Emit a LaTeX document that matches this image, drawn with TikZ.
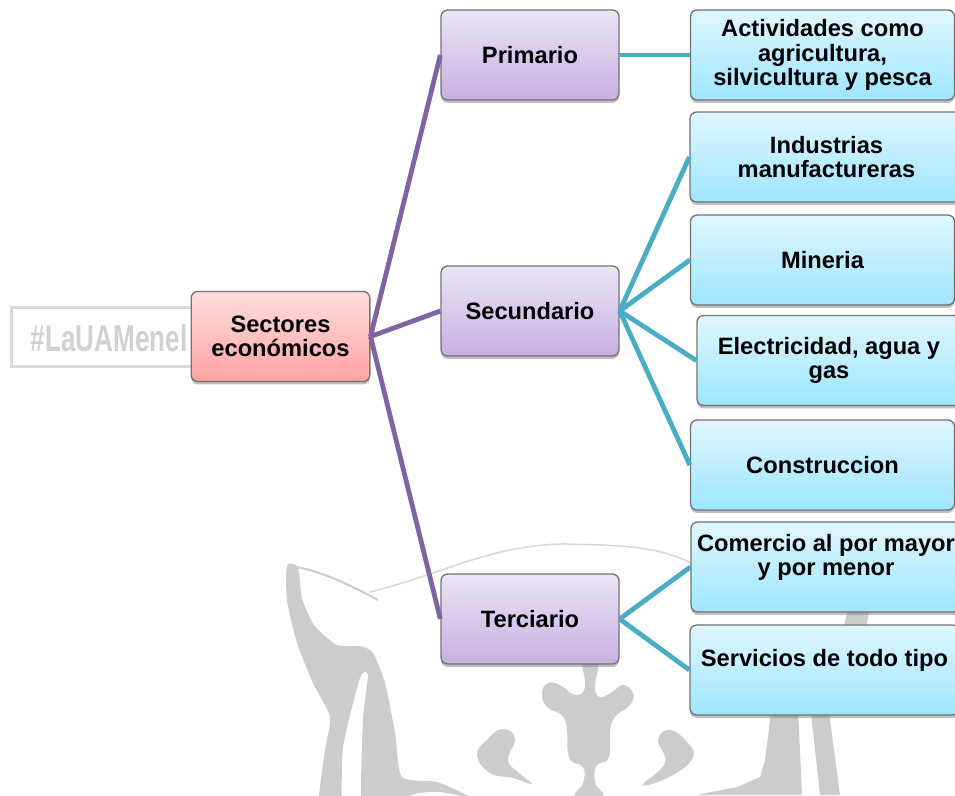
\documentclass[tikz,border=0pt]{standalone}
\usepackage{fontspec}
\setmainfont{Liberation Sans}
\usetikzlibrary{shadows}
\definecolor{ramamorado}{HTML}{8064A2}
\definecolor{ramaazul}{HTML}{4BACC6}
\definecolor{marcagris}{HTML}{CCCCCC}
\definecolor{rojoalto}{HTML}{FFDEDE}
\definecolor{rojobajo}{HTML}{FFA3A3}
\definecolor{moradoalto}{HTML}{EBE4F5}
\definecolor{moradobajo}{HTML}{C6B1E1}
\definecolor{azulalto}{HTML}{E0F6FF}
\definecolor{azulbajo}{HTML}{9DE6FF}
\begin{document}
\begin{tikzpicture}[x=0.75pt,y=-0.75pt,
caja/.style={draw=black!55,line width=1pt,rounded corners=5pt,align=center,inner sep=0pt,
  minimum height=67.5pt,font=\fontsize{17.75pt}{18.4pt}\selectfont\bfseries,
  drop shadow={shadow xshift=0pt,shadow yshift=-2.2pt,opacity=0.5}},
raiz/.style={caja,minimum width=134pt,top color=rojoalto,bottom color=rojobajo},
rama/.style={caja,minimum width=133.5pt,top color=moradoalto,bottom color=moradobajo},
hoja/.style={caja,minimum width=198pt,top color=azulalto,bottom color=azulbajo},
lineamorada/.style={ramamorado,line width=3.6pt},
lineaazul/.style={ramaazul,line width=3.6pt},
marca/.style={draw=marcagris!70,line width=2.2pt,minimum width=142pt,minimum height=44pt,inner sep=0pt},
marcatexto/.style={text=marcagris!90,inner sep=0pt,font=\fontsize{28pt}{30pt}\selectfont\bfseries}]
\useasboundingbox (0,0) rectangle (955,795);
% marca de agua
\node[marca](recuadro) at(106,337) {};
\node[marcatexto](etiqueta) at(109,338) {\scalebox{0.7}[1]{\#LaUAMenel}};
\fill[marcagris] plot[smooth cycle,tension=0.4] coordinates{(287,565)(298,568)(302,598)(314,625)(337,645)(360,646)(373,653)(385,683)(395,733)(402,777)(437,782)(472,798)(440,792)(412,795)(400,815)(363,815)(363,720)(368,675)(360,678)(343,747)(340,815)(318,815)(325,750)(330,717)(313,683)(297,643)(287,600)};
\draw[marcagris,line width=1.5pt](290,566)..controls(320,570)and(350,585)..(378,600);
\draw[marcagris!75,line width=1.2pt](370,592)..controls(440,575)and(490,545)..(564,544)..controls(610,545)and(660,545)..(692,564);
\fill[marcagris] plot[smooth cycle,tension=0.75] coordinates{(583,660)(585,687)(575,695)(560,685)(548,683)(542,693)(547,707)(565,720)(569,757)(583,767)(583,783)(575,797)(603,797)(595,782)(597,765)(609,757)(612,722)(630,705)(633,693)(623,685)(612,692)(600,697)(595,687)(598,660)};
\fill[marcagris] plot[smooth cycle,tension=0.75] coordinates{(502,729)(515,738)(508,760)(518,772)(532,784)(513,778)(490,773)(477,755)(487,740)};
\fill[marcagris] plot[smooth cycle,tension=0.75] coordinates{(670,730)(658,740)(665,763)(643,785)(673,775)(693,757)(687,742)};
\fill[marcagris](843,630)--(849,605)--(870,605)--(866,630)--cycle;
\fill[marcagris](772,705)--(798,705)--(802,795)--(697,795)--(737,787)--(760,777)--(765,760)--cycle;
\fill[marcagris](810,705)--(828,705)--(840,795)--(820,795)--cycle;
% cajas
\node[raiz](sectores) at(280.5,336.5) {Sectores\\económicos};
\node[rama](primario) at(530,55) {Primario};
\node[rama](secundario) at(530,311) {Secundario};
\node[rama](terciario) at(530,619) {Terciario};
\node[hoja](actividades) at(822.5,55) {Actividades como\\agricultura,\\silvicultura y pesca};
\node[hoja,minimum width=204.75pt](industrias) at(826.5,157) {Industrias\\manufactureras};
\node[hoja](mineria) at(822.5,260) {Mineria};
\node[hoja](electricidad) at(829,360.5) {Electricidad, agua y\\gas};
\node[hoja](construccion) at(822.5,465) {Construccion};
\node[hoja,minimum width=202.5pt](comercio) at(826,567) {Comercio al por mayor\\y por menor\\\mbox{}};
\node[hoja,minimum width=201.75pt](servicios) at(824.5,670) {Servicios de todo tipo\\\mbox{}};
% lineas
\draw[lineamorada](sectores.east)--(primario.west);
\draw[lineamorada](sectores.east)--(secundario.west);
\draw[lineamorada](sectores.east)--(terciario.west);
\draw[lineaazul](primario.east)--(actividades.west);
\draw[lineaazul](secundario.east)--(industrias.west);
\draw[lineaazul](secundario.east)--(mineria.west);
\draw[lineaazul](secundario.east)--(electricidad.west);
\draw[lineaazul](secundario.east)--(construccion.west);
\draw[lineaazul](terciario.east)--(comercio.west);
\draw[lineaazul](terciario.east)--(servicios.west);
\end{tikzpicture}
\end{document}
